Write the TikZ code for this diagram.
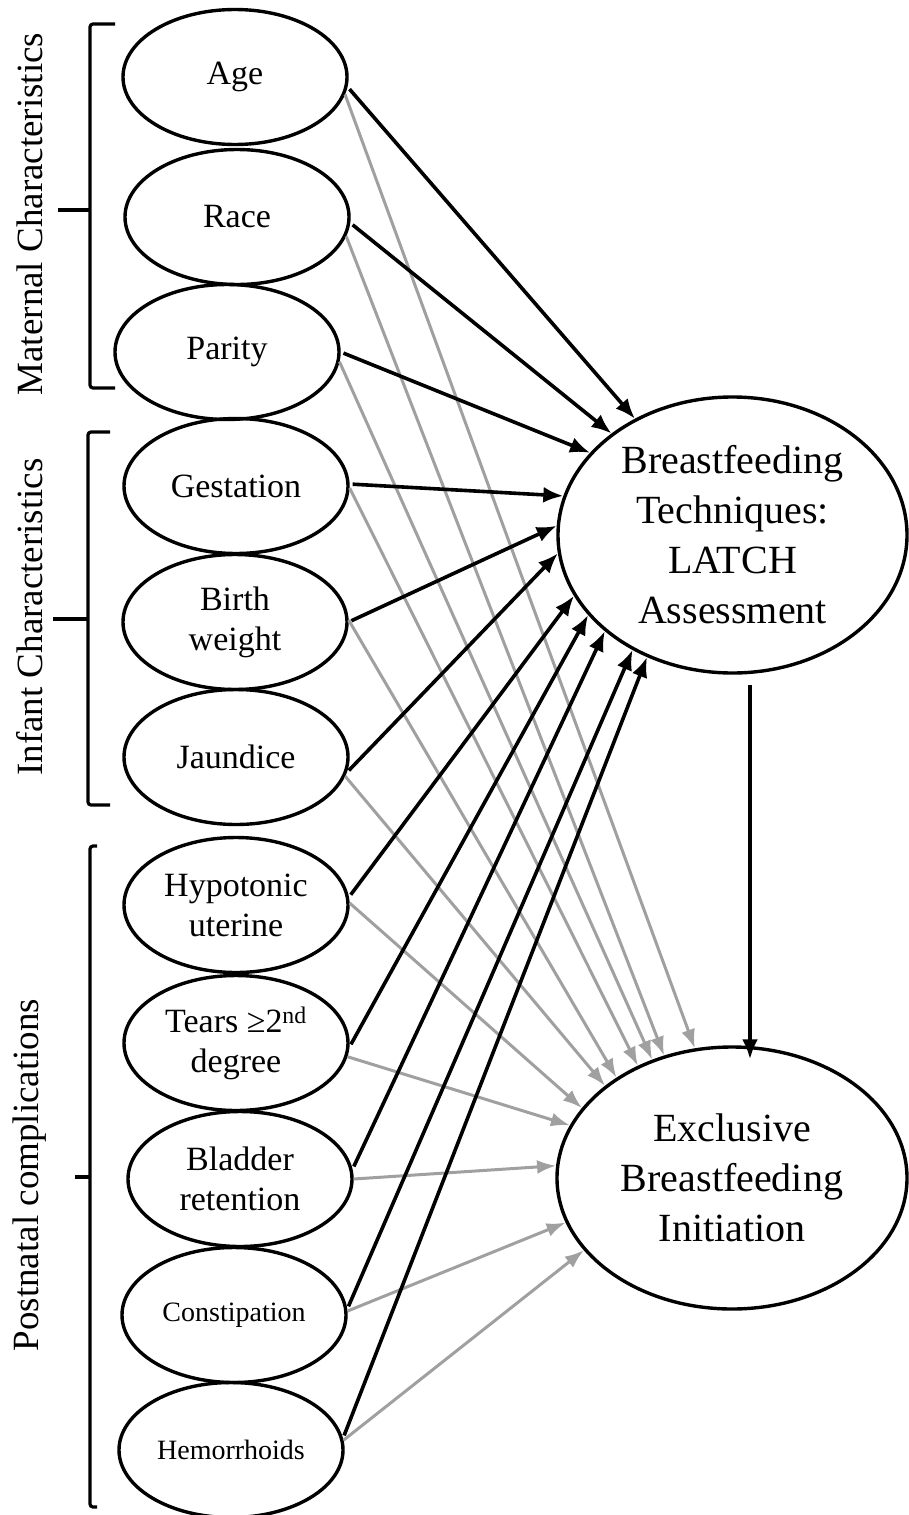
\documentclass[tikz,border=0pt]{standalone}
\usepackage{fontspec}
\setmainfont{Liberation Serif}
\usetikzlibrary{arrows.meta,shapes.geometric}
\definecolor{lgray}{RGB}{160,160,160}
\begin{document}
\begin{tikzpicture}[x=1pt,y=-1pt,
  var/.style={ellipse,draw,line width=3.4pt,minimum width=224pt,minimum height=135pt,inner sep=0pt,align=center,font=\fontsize{34}{40}\selectfont},
  smallvar/.style={var,font=\fontsize{28}{34}\selectfont},
  outc/.style={ellipse,draw,line width=3.4pt,inner sep=0pt,align=center,font=\fontsize{40}{50}\selectfont},
  grp/.style={rotate=90,inner sep=0pt,font=\fontsize{37}{42}\selectfont},
  brk/.style={line width=3.2pt,rounded corners=3pt},
  blk/.style={line width=3.6pt,-{Latex[length=20pt,width=16pt]},shorten <=3pt},
  gry/.style={draw=lgray,line width=3pt,-{Latex[length=19pt,width=14pt]}}]
\useasboundingbox (0,0) rectangle (909,1515);

% left variables
\node[var] (age) at (235,77) {Age};
\node[var] (race) at (237,217) {Race};
\node[var] (parity) at (227,352) {Parity};
\node[var] (gest) at (236,486) {Gestation};
\node[var] (birth) at (235,622) {Birth\\weight};
\node[var] (jaun) at (236,757) {Jaundice};
\node[var] (hypo) at (236,905) {Hypotonic\\uterine};
\node[var] (tears) at (236,1043) {Tears ≥2\textsuperscript{nd}\\degree};
\node[var] (blad) at (240,1179) {Bladder\\retention};
\node[smallvar] (cons) at (234,1315) {Constipation};
\node[smallvar] (hemo) at (231,1450) {Hemorrhoids};

% outcomes
\node[outc,minimum width=349pt,minimum height=276pt] (BT) at (732.5,535) {Breastfeeding\\Techniques:\\LATCH\\Assessment};
\node[outc,minimum width=350pt,minimum height=262pt] (EB) at (732,1178) {Exclusive\\Breastfeeding\\Initiation};

% group labels and brackets
\node[grp] (mat) at (30,214) {Maternal Characteristics};
\node[grp] (inf) at (30,617) {Infant Characteristics};
\node[grp] (post) at (30,1175) {Postnatal complications};
\draw[brk] (115,24) -- (90,24) -- (90,388) -- (115,388);
\draw[brk] (58,210) -- (90,210);
\draw[brk] (110,432) -- (88,432) -- (88,805) -- (110,805);
\draw[brk] (53,619) -- (88,619);
\draw[brk] (97,846) -- (90,846) -- (90,1507) -- (97,1507);
\draw[brk] (75,1177) -- (90,1177);

% gray arrows to EB
\foreach \s/\a/\t in {age/351/106.3, race/350/119.7, parity/355/124.2, gest/359/130.4,
  birth/1/139.2, jaun/350/144, hypo/1/155.5, tears/353/162.9, blad/0/176.8,
  cons/2/195.3, hemo/5/206}
  \draw[gry] (\s.\a) -- (EB.\t);

% black arrows to BT
\foreach \s/\a/\t in {age/355/130.4, race/357/140.1, parity/0/150.7, gest/1/167,
  birth/0/177.4, jaun/352/186.5, hypo/4/201.7, tears/358/209, blad/5/217.1,
  cons/3/229.5, hemo/6/235.9}
  \draw[blk] (\s.\a) -- (BT.\t);

% BT -> EB
\coordinate (vs) at (750,685);
\draw[blk,shorten <=0pt,shorten >=-14pt] (vs) -- (vs |- EB.north);
\end{tikzpicture}
\end{document}
